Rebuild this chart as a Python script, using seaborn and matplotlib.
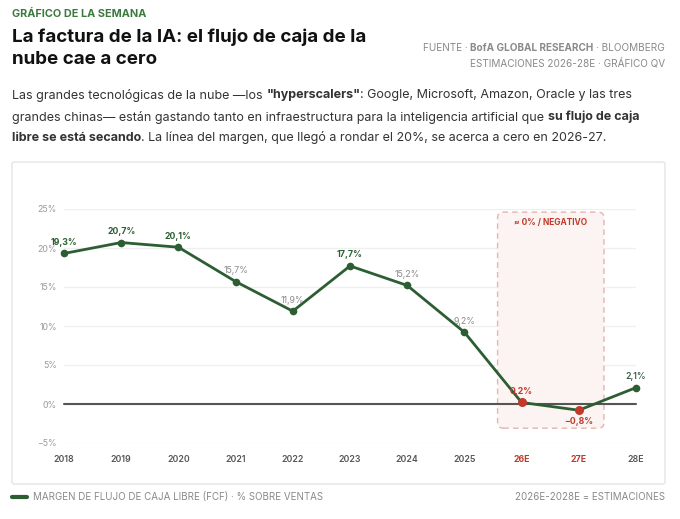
import matplotlib
matplotlib.use("Agg")
import numpy as np
import pandas as pd
import seaborn as sns
import matplotlib.pyplot as plt
from matplotlib.patches import FancyBboxPatch
from matplotlib.lines import Line2D

# ---------------- data ----------------
years = ["2018", "2019", "2020", "2021", "2022", "2023", "2024", "2025", "26E", "27E", "28E"]
margin = [19.3, 20.7, 20.1, 15.7, 11.9, 17.7, 15.2, 9.2, 0.2, -0.8, 2.1]
label_kind = ["hi", "hi", "hi", "lo", "lo", "hi", "lo", "lo", "neg", "neg", "est"]
y_ticks = [-5, 0, 5, 10, 15, 20, 25]
highlight_span = (7.58, 9.44)
highlight_range = (-3.1, 24.6)

# ---------------- style ----------------
sns.set_theme(style="white")
FAM = ["Inter", "DejaVu Sans"]
plt.rcParams["font.family"] = FAM

GREEN = "#2d5e33"
RED = "#c0392b"
GRAY = "#8a8a8a"
W, H = 680, 519

fig = plt.figure(figsize=(W / 100, H / 100), dpi=100)
fig.patch.set_facecolor("white")
renderer = fig.canvas.get_renderer()


def fx(px):
    return px / W


def fy(py):
    return 1 - py / H


def text_w(s, size, weight):
    t = fig.text(0, 0, s, fontsize=size, fontweight=weight, family=FAM)
    w = t.get_window_extent(renderer).width
    t.remove()
    return w


def seg_w(s, size, weight):
    return text_w("|" + s + "|", size, weight) - text_w("||", size, weight)


def parts_w(parts, size):
    return sum(seg_w(s, size, wt) for s, wt in parts)


def draw_parts(x_px, y_px, parts, size, color):
    cur = x_px
    for s, wt in parts:
        lead = s[: len(s) - len(s.lstrip())]
        lw = seg_w(lead, size, wt) if lead else 0
        fig.text(fx(cur + lw), fy(y_px), s.strip(), fontsize=size, fontweight=wt,
                 color=color, ha="left", va="center", family=FAM)
        cur += seg_w(s, size, wt)
    return cur - x_px


# ---------------- header ----------------
fig.text(fx(12), fy(14), "GRÁFICO DE LA SEMANA", fontsize=7.8, fontweight="bold",
         color="#3b7a3f", ha="left", va="center")

title1 = [("La factura de la IA: el flujo de caja de la", "bold")]
tsize = 12 * 353 / parts_w(title1, 12)
draw_parts(12, 37, title1, tsize, "#111111")
draw_parts(12, 60, [("nube cae a cero", "bold")], tsize, "#111111")

src1 = [("FUENTE · ", "normal"), ("BofA GLOBAL RESEARCH", "bold"), (" · BLOOMBERG", "normal")]
src2 = [("ESTIMACIONES 2026-28E · GRÁFICO QV", "normal")]
ssize = 7.2
draw_parts(665 - parts_w(src1, ssize), 48, src1, ssize, GRAY)
draw_parts(665 - parts_w(src2, ssize), 63, src2, ssize, GRAY)

body1 = [("Las grandes tecnológicas de la nube —los ", "normal"), ('"hyperscalers"', "bold"),
         (": Google, Microsoft, Amazon, Oracle y las tres", "normal")]
body2 = [("grandes chinas— están gastando tanto en infraestructura para la inteligencia artificial que ", "normal"),
         ("su flujo de caja", "bold")]
body3 = [("libre se está secando", "bold"),
         (". La línea del margen, que llegó a rondar el 20%, se acerca a cero en 2026-27.", "normal")]
bsize = 10 * 622 / parts_w(body1, 10)
draw_parts(12, 95, body1, bsize, "#333333")
draw_parts(12, 117, body2, bsize, "#333333")
draw_parts(12, 138, body3, bsize, "#333333")

# ---------------- card ----------------
card = FancyBboxPatch((fx(12), fy(484)), fx(653), 322 / H, boxstyle="round,pad=0,rounding_size=0.004",
                      transform=fig.transFigure, fc="white", ec="#e4e4e4", lw=1.0, zorder=-5)
fig.patches.append(card)

# ---------------- axes ----------------
ax = fig.add_axes([fx(64), fy(443), 572 / W, 234 / H])
ax.set_zorder(2)
ax.set_facecolor("none")
df = pd.DataFrame({"x": np.arange(len(years)), "margin": margin, "kind": label_kind})

ax.set_xlim(0, len(years) - 1)
ax.set_ylim(y_ticks[0], y_ticks[-1])
ax.set_yticks(y_ticks)
ax.set_yticklabels([f"{v}%".replace("-", "−") for v in y_ticks])
ax.set_xticks(df["x"])
ax.set_xticklabels(years)
ax.grid(axis="y", color="#efefef", lw=0.9)
ax.grid(axis="x", visible=False)
for sp in ax.spines.values():
    sp.set_visible(False)
ax.tick_params(axis="both", length=0)
ax.tick_params(axis="y", pad=5, labelsize=6.3, labelcolor="#9a9a9a")
ax.tick_params(axis="x", pad=9, labelsize=6.3)
for lab, yr in zip(ax.get_xticklabels(), years):
    if yr in ("26E", "27E"):
        lab.set_color(RED)
        lab.set_fontweight("bold")
    else:
        lab.set_color("#555555")
        lab.set_fontweight("semibold")

# highlight zone
x0, x1 = highlight_span
y0, y1 = highlight_range
ppx = 572 / (len(years) - 1)
ppy = 234 / (y_ticks[-1] - y_ticks[0])
box = FancyBboxPatch((x0, y0), x1 - x0, y1 - y0, boxstyle="round,pad=0,rounding_size=0.1",
                     mutation_aspect=ppx / ppy, fc="#fcf4f2", ec="#e6b3ae", lw=1.0,
                     ls=(0, (4, 3)), zorder=1)
ax.add_patch(box)
ax.text((x0 + x1) / 2, y1 - 1.3, "≈ 0% / NEGATIVO", ha="center", va="center",
        fontsize=6.0, fontweight="bold", color=RED, zorder=3)

ax.axhline(0, color="#555555", lw=1.5, zorder=2)

sns.lineplot(data=df, x="x", y="margin", ax=ax, color=GREEN, lw=2.0, marker="o",
             markersize=5.5, markeredgewidth=0, zorder=4)
neg = df[df["kind"] == "neg"]
sns.scatterplot(data=neg, x="x", y="margin", ax=ax, color=RED, s=42, linewidth=0, zorder=5)
for art in ax.lines + ax.collections:
    art.set_clip_on(False)
ax.set_xlabel("")
ax.set_ylabel("")

for i, (v, k) in enumerate(zip(margin, label_kind)):
    txt = f"{v:.1f}%".replace(".", ",").replace("-", "−")
    if k == "hi":
        col, wt = GREEN, "bold"
    elif k == "lo":
        col, wt = "#8a8a8a", "normal"
    elif k == "neg":
        col, wt = RED, "bold"
    else:
        col, wt = "#3f5f48", "semibold"
    dy = -8 if v < 0 else 8
    ax.annotate(txt, (i, v), xytext=(0, dy), textcoords="offset points", ha="center",
                va="center", fontsize=6.3, fontweight=wt, color=col, zorder=6)

# ---------------- footer legend ----------------
fig.lines.append(Line2D([fx(12), fx(27)], [fy(497), fy(497)], transform=fig.transFigure,
                        color=GREEN, lw=3))
fig.text(fx(33), fy(497), "MARGEN DE FLUJO DE CAJA LIBRE (FCF) · % SOBRE VENTAS", fontsize=7.0,
         color=GRAY, ha="left", va="center")
fig.text(fx(665), fy(497), "2026E-2028E = ESTIMACIONES", fontsize=7.0,
         color=GRAY, ha="right", va="center")

fig.savefig("out.png", dpi=100, facecolor="white")
